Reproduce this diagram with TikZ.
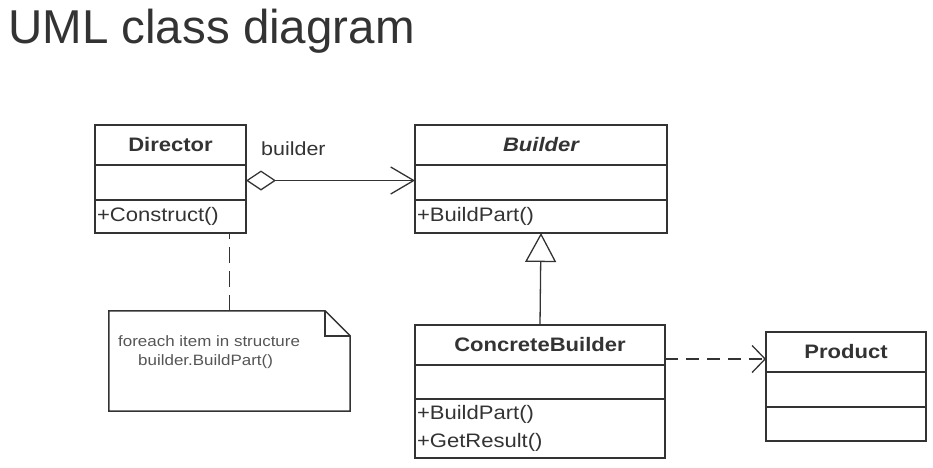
\documentclass[tikz,border=0pt]{standalone}
\usepackage{fontspec}
\setmainfont{Liberation Sans}
\newfontfamily\umlfont[FakeStretch=1.13]{Liberation Sans}
\usetikzlibrary{positioning, arrows.meta}
\definecolor{umlgray}{RGB}{51,51,51}
\definecolor{notegray}{RGB}{85,85,85}

\begin{document}
\begin{tikzpicture}[x=1pt, y=-1pt,
    cls/.style={draw=umlgray, line width=1.5pt, minimum width=#1, inner sep=2pt,
        outer sep=0pt, text=umlgray, font=\umlfont\fontsize{19.5}{28}\selectfont},
    ops/.style={cls=#1, text width=#1-4pt, align=left},
    link/.style={draw=umlgray, line width=1.3pt},
    dep/.style={link, dash pattern=on 13pt off 8pt}]
    \useasboundingbox (0,0) rectangle (933,467);

    % Title
    \node[anchor=base west, inner sep=0, text=umlgray,
        font=\fontsize{47.5}{50}\selectfont] (title) at (8,43) {UML class diagram};

    % Director
    \node[cls=151, minimum height=40] (dirname) at (170.5,145) {\bfseries Director};
    \node[cls=151, minimum height=35, below=0pt of dirname] (dirattr) {};
    \node[ops=151, minimum height=33, below=0pt of dirattr] (dirop) {+Construct()};

    % Builder
    \node[cls=252, minimum height=40] (bldname) at (541,145) {\bfseries\itshape Builder};
    \node[cls=252, minimum height=35, below=0pt of bldname] (bldattr) {};
    \node[ops=252, minimum height=33, below=0pt of bldattr] (bldop) {+BuildPart()};

    % ConcreteBuilder
    \node[cls=250, minimum height=40] (cbname) at (540,345) {\bfseries ConcreteBuilder};
    \node[cls=250, minimum height=34, below=0pt of cbname] (cbattr) {};
    \node[ops=250, minimum height=59, below=0pt of cbattr] (cbop) {+BuildPart()\\+GetResult()};

    % Product
    \node[cls=160, minimum height=40] (prodname) at (846,352) {\bfseries Product};
    \node[cls=160, minimum height=35, below=0pt of prodname] (prodattr) {};
    \node[cls=160, minimum height=34, below=0pt of prodattr] (prodop) {};

    % Note
    \node[minimum width=241, minimum height=100, inner sep=0] (note) at (229.5,361) {};
    \draw[umlgray, line width=1.5pt] (note.north west) -- ([xshift=-25pt]note.north east)
        -- ([yshift=-25pt]note.north east) -- (note.south east) -- (note.south west) -- cycle;
    \draw[umlgray, line width=1.5pt] ([xshift=-25pt]note.north east)
        -- ([xshift=-25pt, yshift=-25pt]note.north east) -- ([yshift=-25pt]note.north east);
    \node[anchor=base west, inner sep=0, text=notegray, font=\umlfont\fontsize{15}{18}\selectfont]
        (noteline1) at (118,346) {foreach item in structure};
    \node[anchor=base west, inner sep=0, text=notegray, font=\umlfont\fontsize{15}{18}\selectfont]
        (noteline2) at (138,365) {builder.BuildPart()};

    % Connectors
    \draw[link, {Diamond[open, length=30pt, width=20pt]}-{Straight Barb[length=23pt, width=27pt]}]
        ([yshift=2pt]dirattr.east) -- ([yshift=2pt]bldattr.west);
    \node[anchor=base west, inner sep=0, text=umlgray, font=\umlfont\fontsize{19}{22}\selectfont]
        (role) at (261,155) {builder};
    \draw[link, -{Triangle[open, length=29pt, width=31pt]}] (cbname.north) -- (bldop.south);
    \draw[dep, -{Straight Barb[length=13pt, width=27pt]}]
        ([yshift=-14pt]cbname.east) -- ([yshift=-14pt]cbname.east -| prodname.west);
    \draw[link, dash pattern=on 16pt off 8pt] (note.north) -- (note.north |- dirop.south);
\end{tikzpicture}
\end{document}
